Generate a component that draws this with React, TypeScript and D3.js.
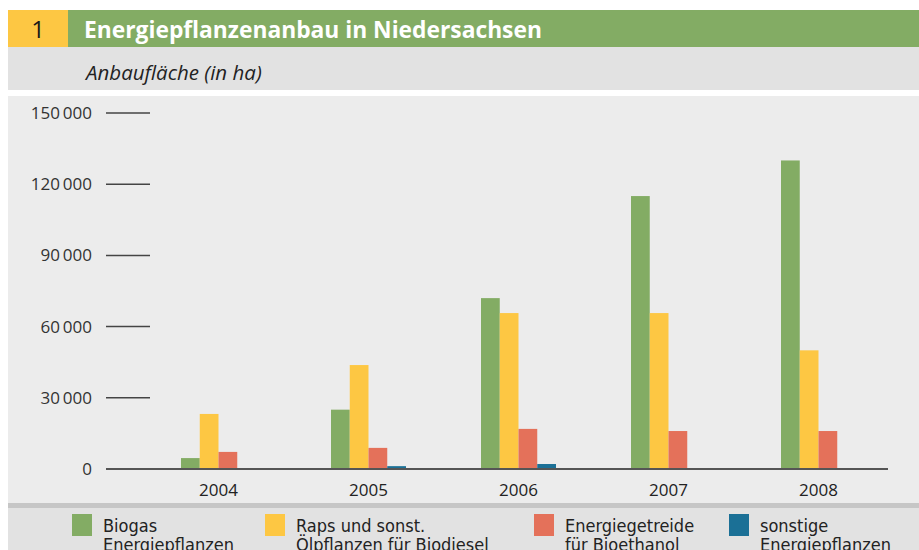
import React, { useEffect, useRef } from 'react';
import * as d3 from 'd3';

const years = ['2004', '2005', '2006', '2007', '2008'];
const seriesNames = [
  ['Biogas', 'Energiepflanzen'],
  ['Raps und sonst.', 'Ölpflanzen für Biodiesel'],
  ['Energiegetreide', 'für Bioethanol'],
  ['sonstige', 'Energiepflanzen'],
];
const biogas = [4600, 25000, 72000, 115000, 130000];
const raps = [23200, 43800, 65700, 65700, 50000];
const getreide = [7200, 8900, 16900, 16000, 16000];
const sonstige = [300, 1200, 2100, 200, 200];
const yTicks = [0, 30000, 60000, 90000, 120000, 150000];
const colors = ['#83ac64', '#fdc743', '#e4715a', '#1b7096'];

const App = () => {
  const svgRef = useRef<SVGSVGElement>(null);

  useEffect(() => {
    const svg = d3.select(svgRef.current);
    svg.selectAll('*').remove();
    const font = '"Open Sans", "Noto Sans", sans-serif';
    const narrow = '"Liberation Sans Narrow", "DejaVu Sans Condensed", sans-serif';

    // Hintergrundflächen
    svg.append('rect').attr('x', 8).attr('y', 10).attr('width', 60).attr('height', 37).attr('fill', '#fdc743');
    svg.append('rect').attr('x', 68).attr('y', 10).attr('width', 851).attr('height', 37).attr('fill', '#83ac64');
    svg.append('rect').attr('x', 8).attr('y', 47).attr('width', 911).attr('height', 43).attr('fill', '#e2e2e2');
    svg.append('rect').attr('x', 8).attr('y', 96).attr('width', 911).attr('height', 407).attr('fill', '#ececec');
    svg.append('rect').attr('x', 8).attr('y', 503).attr('width', 911).attr('height', 5).attr('fill', '#c6c6c6');
    svg.append('rect').attr('x', 8).attr('y', 508).attr('width', 911).attr('height', 42).attr('fill', '#e2e2e2');

    svg.append('text').attr('x', 38).attr('y', 38).attr('text-anchor', 'middle')
      .style('font-family', font).style('font-size', '24px').style('fill', '#1a1a1a').text('1');
    svg.append('text').attr('x', 84).attr('y', 38)
      .style('font-family', font).style('font-size', '22.8px').style('font-weight', 'bold').style('fill', '#fff')
      .text('Energiepflanzenanbau in Niedersachsen');
    svg.append('text').attr('x', 86).attr('y', 80)
      .style('font-family', font).style('font-size', '20.5px').style('font-style', 'italic').style('fill', '#222')
      .text('Anbaufläche (in ha)');

    const y = d3.scaleLinear().domain([0, 150000]).range([469, 113]);
    const x = d3.scaleBand().domain(years).range([106, 931]).paddingInner(0.5).paddingOuter(0.5);
    const xs = d3.scaleBand().domain(['0', '1', '2', '3']).range([0, x.bandwidth()]);

    // Y-Achse
    yTicks.forEach(t => {
      if (t > 0) {
        svg.append('line').attr('x1', 106).attr('x2', 150).attr('y1', y(t)).attr('y2', y(t))
          .attr('stroke', '#444').attr('stroke-width', 1.5);
      }
      svg.append('text').attr('x', 92).attr('y', y(t)).attr('dy', '0.35em').attr('text-anchor', 'end')
        .style('font-family', font).style('font-size', '17px').style('fill', '#333')
        .text(t === 0 ? '0' : d3.format(',')(t).replace(',', '\u2009'));
    });

    // Balken
    const data = [biogas, raps, getreide, sonstige];
    data.forEach((vals, si) => {
      svg.append('g').selectAll('rect').data(vals).enter().append('rect')
        .attr('x', (d, i) => (x(years[i]) as number) + (xs(String(si)) as number))
        .attr('width', xs.bandwidth())
        .attr('y', d => y(d))
        .attr('height', d => y(0) - y(d))
        .attr('fill', colors[si]);
    });

    svg.append('line').attr('x1', 106).attr('x2', 888).attr('y1', 469).attr('y2', 469)
      .attr('stroke', '#555').attr('stroke-width', 2);

    years.forEach(yr => {
      svg.append('text').attr('x', (x(yr) as number) + x.bandwidth() / 2).attr('y', 496)
        .attr('text-anchor', 'middle')
        .style('font-family', font).style('font-size', '17px').style('fill', '#222').text(yr);
    });

    // Legende
    const legendX = [72, 265, 534, 729];
    seriesNames.forEach((lines, i) => {
      svg.append('rect').attr('x', legendX[i]).attr('y', 514).attr('width', 20).attr('height', 22).attr('fill', colors[i]);
      lines.forEach((l, li) => {
        svg.append('text').attr('x', legendX[i] + 31).attr('y', 532 + li * 19)
          .style('font-family', narrow).style('font-size', '18px').style('fill', '#222').text(l);
      });
    });
  }, []);

  return (
    <svg ref={svgRef} width={919} height={550}
      style={{ position: 'absolute', left: 0, top: 0, background: '#fff' }} />
  );
};

export default App;
